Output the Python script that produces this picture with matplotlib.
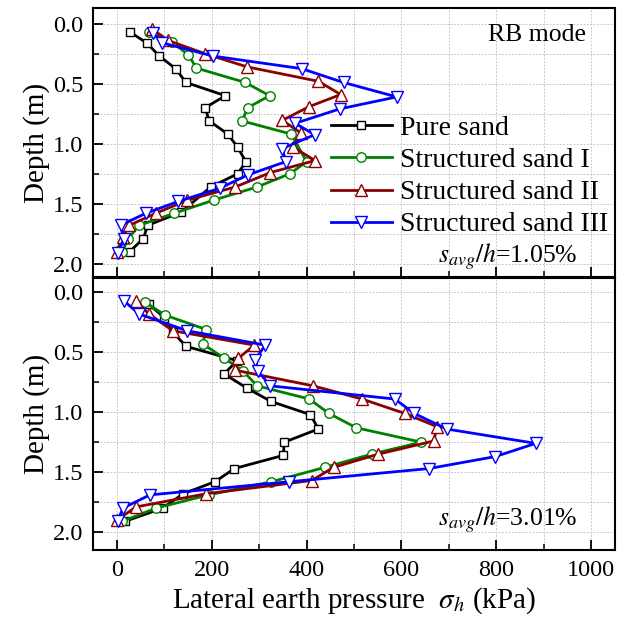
import numpy as np
import matplotlib
matplotlib.use('Agg')
import matplotlib.pyplot as plt
from matplotlib.ticker import MultipleLocator, FormatStrFormatter

plt.rcParams['font.family'] = ['Liberation Serif', 'DejaVu Serif']
plt.rcParams['mathtext.fontset'] = 'stix'

''' DATA '''

labels = ['Pure sand', 'Structured sand I', 'Structured sand II', 'Structured sand III']

# s_avg/h = 1.05 %
d_pure_1 = [0.07, 0.16, 0.27, 0.375, 0.49, 0.60, 0.70, 0.81, 0.92, 1.03, 1.15, 1.25, 1.36, 1.57, 1.68, 1.79, 1.90]
p_pure_1 = [28, 63, 90, 124, 146, 229, 186, 195, 234, 255, 272, 255, 198, 136, 65, 56, 27]
d_s1_1 = [0.07, 0.15, 0.26, 0.37, 0.49, 0.60, 0.70, 0.81, 0.92, 1.15, 1.25, 1.36, 1.47, 1.58, 1.68, 1.79, 1.90]
p_s1_1 = [68, 116, 151, 168, 271, 322, 276, 264, 368, 400, 365, 296, 204, 121, 47, 24, 12]
d_s2_1 = [0.045, 0.14, 0.25, 0.36, 0.48, 0.59, 0.69, 0.805, 0.91, 1.03, 1.14, 1.24, 1.36, 1.47, 1.58, 1.68, 1.78, 1.90]
p_s2_1 = [75, 108, 186, 275, 425, 472, 406, 349, 388, 372, 418, 324, 250, 149, 82, 26, 13, 0]
d_s3_1 = [0.08, 0.16, 0.27, 0.375, 0.49, 0.61, 0.71, 0.83, 0.925, 1.04, 1.15, 1.26, 1.37, 1.48, 1.58, 1.68, 1.79, 1.91]
p_s3_1 = [76, 96, 203, 390, 478, 590, 470, 376, 417, 349, 356, 276, 218, 130, 61, 8, 15, 3]

# s_avg/h = 3.01 %
d_pure_3 = [0.10, 0.21, 0.33, 0.45, 0.57, 0.68, 0.80, 0.91, 1.02, 1.14, 1.25, 1.36, 1.47, 1.58, 1.68, 1.80, 1.91]
p_pure_3 = [68, 100, 118, 146, 254, 226, 275, 325, 408, 425, 353, 351, 248, 207, 140, 97, 18]
d_s1_3 = [0.08, 0.19, 0.31, 0.43, 0.55, 0.66, 0.78, 0.89, 1.01, 1.13, 1.25, 1.35, 1.46, 1.58, 1.69, 1.80, 1.91]
p_s1_3 = [59, 102, 189, 181, 227, 267, 296, 406, 447, 505, 642, 537, 439, 326, 194, 83, 12]
d_s2_3 = [0.07, 0.18, 0.32, 0.44, 0.55, 0.65, 0.78, 0.89, 1.01, 1.12, 1.24, 1.35, 1.46, 1.57, 1.68, 1.79, 1.90]
p_s2_3 = [40, 68, 118, 290, 256, 250, 414, 517, 607, 675, 668, 551, 457, 411, 189, 41, 0]
d_s3_3 = [0.07, 0.18, 0.32, 0.44, 0.56, 0.66, 0.78, 0.89, 1.01, 1.14, 1.26, 1.37, 1.47, 1.58, 1.69, 1.80, 1.91]
p_s3_3 = [15, 47, 148, 313, 292, 298, 324, 586, 627, 695, 883, 798, 658, 364, 70, 13, 2]

colors = ['black', '#008000', '#8B0000', '#0000FF']
markers = ['s', 'o', '^', 'v']
msizes = [6, 6.8, 8, 8]

''' PLOTTING '''

fig = plt.figure(figsize=(6.35, 6.21), dpi=100)
ax1 = fig.add_axes([0.1465, 0.554, 0.822, 0.433])
ax2 = fig.add_axes([0.1465, 0.1143, 0.822, 0.438])

panels = [
    (ax1, [(p_pure_1, d_pure_1), (p_s1_1, d_s1_1), (p_s2_1, d_s2_1), (p_s3_1, d_s3_1)], (2.11, -0.13), '1.05', 0.055),
    (ax2, [(p_pure_3, d_pure_3), (p_s1_3, d_s1_3), (p_s2_3, d_s2_3), (p_s3_3, d_s3_3)], (2.15, -0.12), '3.01', 0.09),
]

for ax, series, ylim, pct, ty in panels:
    for (p, d), c, m, ms, lab in zip(series, colors, markers, msizes, labels):
        ax.plot(p, d, color=c, lw=2.0, marker=m, ms=ms, mfc='white', mec=c, mew=1.0, label=lab)
    ax.set_xlim(-50, 1050)
    ax.set_ylim(*ylim)
    ax.xaxis.set_major_locator(MultipleLocator(200))
    ax.xaxis.set_minor_locator(MultipleLocator(100))
    ax.yaxis.set_major_locator(MultipleLocator(0.5))
    ax.yaxis.set_minor_locator(MultipleLocator(0.25))
    ax.yaxis.set_major_formatter(FormatStrFormatter('%.1f'))
    ax.grid(True, which='both', color='#c8c8c8', ls=(0, (2, 1.5)), lw=0.7)
    ax.set_axisbelow(True)
    ax.tick_params(which='both', direction='in', top=False, right=False, labelsize=17.5, pad=7)
    ax.tick_params(which='major', length=7, width=1.3)
    ax.tick_params(which='minor', length=4, width=1.1)
    for s in ax.spines.values():
        s.set_linewidth(1.5)
    ax.set_ylabel('Depth (m)', fontsize=21, labelpad=2)
    ax.text(0.929, ty, r'$s_{avg}/h$=' + pct + '%',
            transform=ax.transAxes, ha='right', va='baseline', fontsize=18.5)

ax1.tick_params(axis='x', labelbottom=False)
ax1.text(0.944, 0.90, 'RB mode', transform=ax1.transAxes, ha='right', va='center', fontsize=18.5)
ax1.legend(loc='upper left', bbox_to_anchor=(0.455, 0.60), frameon=False, fontsize=20,
           handlelength=2.2, handletextpad=0.3, labelspacing=0.24, borderpad=0, borderaxespad=0)

ax2.set_xlabel(r'Lateral earth pressure  $\sigma_h$ (kPa)', fontsize=21, labelpad=3)

fig.savefig('out.png', dpi=100)
